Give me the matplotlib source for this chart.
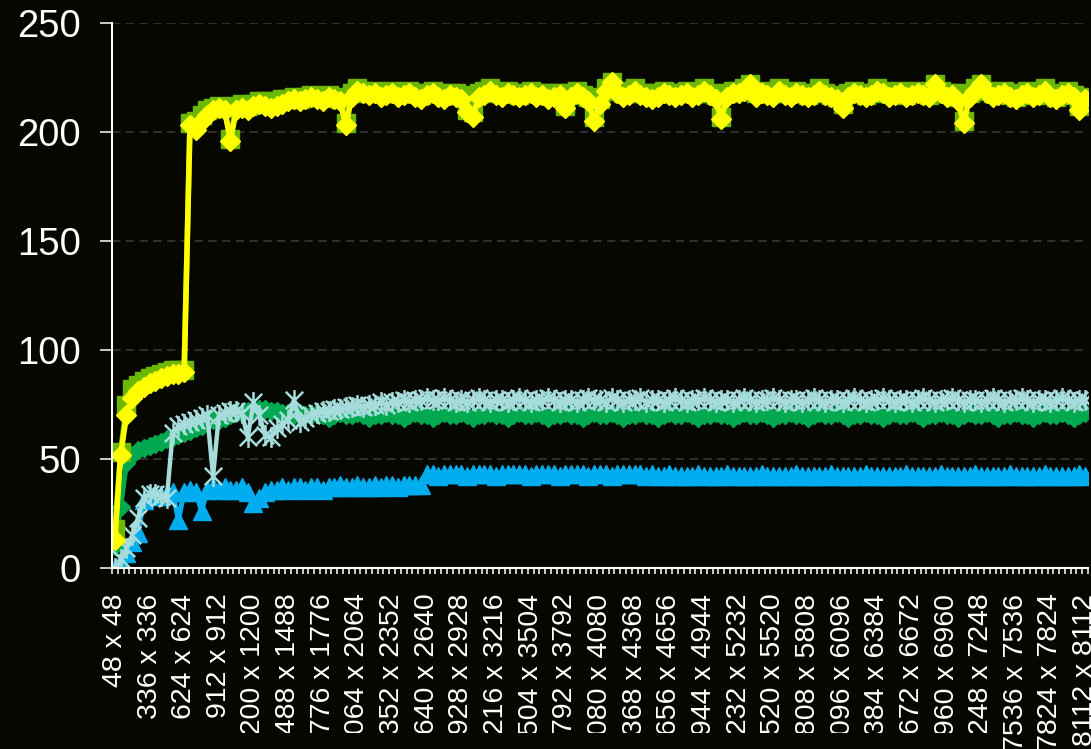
import numpy as np
import matplotlib
matplotlib.use("Agg")
import matplotlib.pyplot as plt
from matplotlib.path import Path
from matplotlib.patches import Rectangle

plt.rcParams['font.family'] = ['Liberation Sans', 'DejaVu Sans']

# Image side lengths (square images, 48 px steps)
side_px = list(range(48, 8113, 48))
label_every = 6

# Throughput per image size for each series
series_yellow = [
    13, 52, 70, 78, 81, 83, 85, 86, 87, 88,
    89, 89, 90, 203, 201, 205, 208, 210, 211, 210,
    196, 210, 211, 210, 212, 213, 212, 211, 212, 213,
    214, 215, 214, 215, 216, 215, 214, 216, 215, 214,
    203, 216, 219, 218, 217, 218, 216, 217, 218, 216,
    217, 218, 216, 215, 217, 218, 216, 215, 217, 216,
    215, 209, 207, 216, 217, 219, 217, 216, 218, 217,
    216, 217, 218, 216, 217, 215, 216, 217, 211, 216,
    218, 216, 214, 205, 213, 219, 223, 218, 216, 217,
    219, 217, 216, 215, 216, 218, 217, 216, 217, 218,
    216, 217, 219, 217, 215, 206, 216, 218, 218, 219,
    222, 216, 218, 217, 216, 219, 217, 216, 218, 217,
    216, 217, 219, 217, 216, 215, 211, 216, 218, 217,
    216, 217, 219, 218, 216, 217, 218, 216, 217, 218,
    217, 216, 222, 218, 216, 217, 214, 204, 216, 219,
    222, 218, 216, 217, 218, 216, 215, 217, 218, 216,
    217, 219, 216, 215, 217, 218, 216, 210, 215,
]

series_lime = [
    18, 53, 75, 82, 84, 86, 87, 88, 89, 90,
    91, 91, 91, 204, 205, 208, 210, 211, 212, 211,
    197, 212, 213, 212, 213, 214, 214, 213, 214, 215,
    215, 216, 215, 216, 217, 216, 216, 217, 216, 215,
    204, 218, 220, 219, 218, 219, 218, 218, 219, 218,
    218, 219, 218, 217, 218, 219, 218, 217, 218, 218,
    217, 210, 209, 218, 219, 220, 218, 218, 219, 218,
    217, 218, 219, 218, 218, 217, 218, 218, 212, 218,
    219, 217, 216, 207, 215, 220, 223, 219, 218, 218,
    220, 218, 218, 217, 218, 219, 218, 218, 218, 219,
    218, 218, 220, 218, 217, 207, 218, 219, 219, 220,
    222, 218, 219, 218, 218, 220, 218, 218, 219, 218,
    217, 218, 220, 218, 217, 216, 213, 218, 219, 218,
    217, 218, 220, 219, 218, 218, 219, 217, 218, 219,
    218, 217, 222, 219, 218, 218, 216, 205, 218, 220,
    222, 219, 218, 218, 219, 217, 216, 218, 219, 217,
    218, 220, 217, 216, 218, 219, 217, 212, 216,
]

series_green = [
    10, 28, 48, 52, 54, 55, 56, 57, 58, 59,
    60, 61, 62, 63, 64, 65, 67, 68, 68, 69,
    70, 71, 71, 72, 72, 73, 73, 72, 72, 71,
    71, 70, 71, 70, 70, 71, 70, 69, 70, 71,
    70, 70, 71, 70, 69, 70, 70, 71, 70, 70,
    69, 70, 71, 70, 70, 69, 70, 71, 70, 70,
    71, 70, 69, 70, 70, 71, 70, 70, 69, 70,
    71, 70, 70, 71, 70, 69, 70, 70, 71, 70,
    70, 69, 70, 71, 70, 70, 71, 70, 69, 70,
    70, 71, 70, 70, 69, 70, 71, 70, 70, 71,
    70, 69, 70, 70, 71, 70, 70, 69, 70, 71,
    70, 70, 71, 70, 69, 70, 70, 71, 70, 70,
    69, 70, 71, 70, 70, 71, 70, 69, 70, 70,
    71, 70, 70, 69, 70, 71, 70, 70, 71, 70,
    69, 70, 70, 71, 70, 70, 69, 70, 71, 70,
    70, 71, 70, 69, 70, 70, 71, 70, 70, 69,
    70, 71, 70, 70, 71, 70, 69, 70, 71,
]

series_cyan = [
    0, 4, 9, 15, 23, 32, 34, 34, 33, 32,
    62, 65, 66, 67, 68, 69, 70, 42, 70, 71,
    72, 72, 71, 60, 76, 70, 61, 60, 64, 66,
    68, 77, 67, 69, 70, 71, 72, 72, 73, 73,
    74, 74, 75, 74, 75, 75, 76, 75, 76, 76,
    77, 76, 77, 77, 78, 77, 77, 78, 77, 76,
    77, 76, 77, 78, 77, 76, 77, 77, 76, 77,
    78, 77, 76, 77, 77, 78, 77, 76, 77, 77,
    76, 77, 78, 77, 77, 76, 78, 77, 76, 77,
    77, 78, 76, 77, 77, 76, 77, 78, 77, 76,
    77, 77, 78, 77, 76, 77, 77, 76, 77, 78,
    77, 76, 77, 77, 78, 77, 76, 77, 77, 76,
    77, 78, 77, 76, 77, 77, 76, 77, 78, 77,
    76, 77, 77, 78, 77, 76, 77, 77, 76, 77,
    78, 77, 76, 77, 77, 78, 77, 76, 77, 77,
    76, 77, 78, 77, 76, 77, 77, 78, 77, 76,
    77, 77, 76, 77, 78, 77, 76, 77, 77,
]

series_blue = [
    0, 3, 7, 12, 16, 31, 33, 34, 33, 34,
    35, 22, 35, 36, 35, 26, 36, 37, 36, 37,
    36, 36, 37, 35, 30, 32, 35, 36, 36, 37,
    36, 37, 37, 36, 37, 37, 36, 37, 37, 38,
    37, 37, 38, 37, 37, 38, 37, 38, 38, 37,
    38, 38, 38, 38, 43, 43, 42, 43, 43, 43,
    43, 42, 43, 43, 43, 43, 42, 43, 43, 43,
    43, 43, 42, 43, 43, 43, 43, 42, 43, 43,
    43, 43, 42, 43, 43, 43, 42, 43, 43, 43,
    43, 43, 42, 43, 42, 42, 43, 42, 42, 42,
    42, 43, 42, 42, 42, 42, 43, 42, 42, 42,
    42, 42, 43, 42, 42, 42, 42, 42, 43, 42,
    42, 42, 42, 42, 43, 42, 42, 42, 42, 42,
    43, 42, 42, 42, 42, 42, 42, 43, 42, 42,
    42, 42, 42, 43, 42, 42, 42, 42, 42, 43,
    42, 42, 42, 42, 42, 43, 42, 42, 42, 42,
    42, 43, 42, 42, 42, 42, 42, 43, 42,
]

y_ticks = [0, 50, 100, 150, 200, 250]

BG = '#070702'
WHITE = '#ffffff'

# Six-armed asterisk marker
star = Path(
    [(-1, -1), (1, 1), (-1, 1), (1, -1), (0, -1.2), (0, 1.2)],
    [Path.MOVETO, Path.LINETO, Path.MOVETO, Path.LINETO, Path.MOVETO, Path.LINETO],
)

W, H = 1091, 749
fig = plt.figure(figsize=(W / 100, H / 100), dpi=100, facecolor=BG)
ax = fig.add_axes([112 / W, 1 - 568 / H, (1088 - 112) / W, (568 - 23) / H])
ax.set_facecolor(BG)

n = len(side_px)
xs = np.arange(n)

ax.plot(np.arange(len(series_blue)), series_blue, color='#00aeef', lw=3.6,
        marker='^', ms=13, mec='#00aeef', mfc='#00aeef', zorder=3)
ax.plot(np.arange(len(series_green)), series_green, color='#00a84f', lw=3.6,
        marker='D', ms=9.5, mec='#00a84f', mfc='#00a84f', zorder=4)
ax.plot(np.arange(len(series_cyan)), series_cyan, color='#a6dcdc', lw=3.2,
        marker=star, ms=15, mfc='none', mec='#a6dcdc', mew=1.8, zorder=5)
ax.plot(np.arange(len(series_lime)), series_lime, color='#6cb800', lw=4,
        marker='s', ms=12.5, mec='#6cb800', mfc='#6cb800', zorder=6)
ax.plot(np.arange(len(series_yellow)), series_yellow, color='#ffff00', lw=4,
        marker='D', ms=10, mec='#ffff00', mfc='#ffff00', zorder=7)

ax.set_xlim(-0.5, n - 0.5)
ax.set_ylim(0, 250)

# axis lines
for side in ('top', 'right'):
    ax.spines[side].set_visible(False)
for side in ('left', 'bottom'):
    ax.spines[side].set_color(WHITE)
    ax.spines[side].set_linewidth(1.5)
    ax.spines[side].set_zorder(8)

# y axis
ax.set_yticks(y_ticks)
ax.set_yticklabels([str(v) for v in y_ticks])
ax.tick_params(axis='y', direction='out', length=8.6, width=1.1, colors=WHITE,
               labelsize=27.5, pad=14)
ax.yaxis.grid(True, color='#3a3a3a', linestyle=(0, (5.5, 3.5)), linewidth=1.1)
ax.set_axisbelow(True)

# x axis: tick marks between categories, labels on every sixth category
ax.set_xticks(np.arange(n + 1) - 0.5)
ax.set_xticklabels([])
ax.tick_params(axis='x', which='major', direction='out', length=4.5, width=1.1,
               colors=WHITE)
lab_pos = xs[::label_every]
ax.set_xticks(lab_pos, minor=True)
ax.set_xticklabels([f"{side_px[k]} x {side_px[k]}" for k in lab_pos], minor=True)
ax.tick_params(axis='x', which='minor', length=0, pad=18.5, labelsize=20.5,
               labelrotation=90, colors=WHITE)

# footer band across the lower edge
fig.add_artist(Rectangle((0, 0), 997 / W, 16 / H, transform=fig.transFigure,
                         facecolor=BG, edgecolor='none', zorder=10))

fig.savefig('out.png', dpi=100, facecolor=BG)
